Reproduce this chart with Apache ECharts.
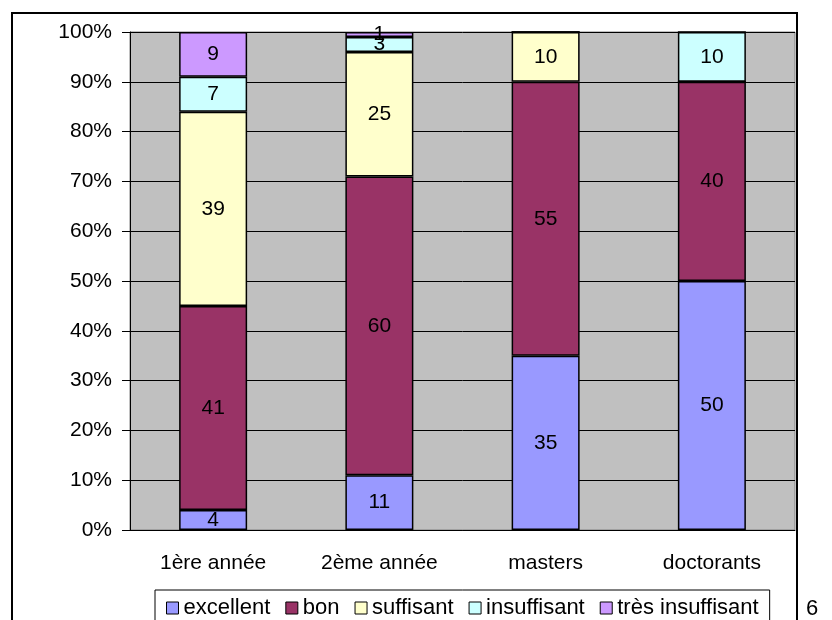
<!DOCTYPE html>
<html>
<head>
<meta charset="utf-8">
<script src="https://cdn.jsdelivr.net/npm/echarts@6/dist/echarts.min.js"></script>
<style>
html,body{margin:0;padding:0;background:#fff;}
#c{width:832px;height:620px;}
</style>
</head>
<body>
<div id="c"></div>
<script>
var categories = ['1ère année', '2ème année', 'masters', 'doctorants'];
var excellent = [4, 11, 35, 50];
var bon = [41, 60, 55, 40];
var suffisant = [39, 25, 10, 0];
var insuffisant = [7, 3, 0, 10];
var tresInsuffisant = [9, 1, 0, 0];
var yTicks = [0, 10, 20, 30, 40, 50, 60, 70, 80, 90, 100];

var seriesDefs = [
  ['excellent', excellent, '#9999FF'],
  ['bon', bon, '#993366'],
  ['suffisant', suffisant, '#FFFFCC'],
  ['insuffisant', insuffisant, '#CCFFFF'],
  ['très insuffisant', tresInsuffisant, '#CC99FF']
];

var font = 'Liberation Sans, Arial, sans-serif';
var chart = echarts.init(document.getElementById('c'));
chart.setOption({
  animation: false,
  backgroundColor: '#fff',
  textStyle: {fontFamily: font},
  grid: {left: 130, right: 37, top: 32, bottom: 90, show: true, backgroundColor: '#C0C0C0', borderColor: '#808080', borderWidth: 1},
  legend: {
    top: 590, left: 155,
    data: seriesDefs.map(function(s){return s[0];}),
    itemWidth: 12, itemHeight: 12, itemGap: 15,
    borderColor: '#000', borderWidth: 1,
    padding: [7, 11, 10, 11],
    icon: 'rect',
    textStyle: {fontFamily: font, fontSize: 22, color: '#000'},
    itemStyle: {borderColor: '#000', borderWidth: 1}
  },
  xAxis: {
    type: 'category', data: categories,
    axisLine: {lineStyle: {color: '#000', width: 1}},
    axisTick: {length: 7, lineStyle: {color: '#000'}},
    axisLabel: {color: '#000', fontSize: 21, margin: 23, fontFamily: font}
  },
  yAxis: {
    type: 'value', min: yTicks[0], max: yTicks[yTicks.length-1], interval: 10,
    axisLine: {show: true, lineStyle: {color: '#000', width: 1}},
    axisTick: {show: true, length: 8, lineStyle: {color: '#000'}},
    axisLabel: {color: '#000', fontSize: 21, margin: 18, formatter: '{value}%', fontFamily: font},
    splitLine: {lineStyle: {color: '#000', width: 1}}
  },
  series: seriesDefs.map(function(s){
    return {
      name: s[0], type: 'bar', stack: 'total', data: s[1], barWidth: 68,
      itemStyle: {color: s[2], borderColor: '#000', borderWidth: 1.5},
      label: {show: true, position: 'inside', color: '#000', fontSize: 21, fontFamily: font,
        formatter: function(p){ return p.value > 0 ? String(p.value) : ''; }}
    };
  }),
  graphic: [
    {type: 'rect', shape: {x: 12, y: 13, width: 785, height: 640}, style: {fill: 'none', stroke: '#000', lineWidth: 2}, z: 100},
    {type: 'text', left: 806, top: 598, style: {text: '6', fontSize: 22, fontFamily: font, fill: '#000'}}
  ]
});
</script>
</body>
</html>
